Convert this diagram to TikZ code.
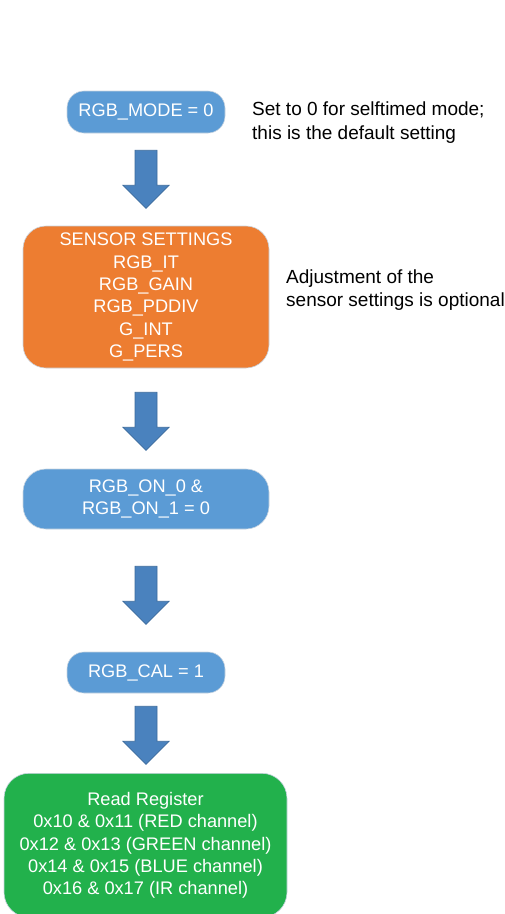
\documentclass[tikz,border=0pt]{standalone}
\usepackage{fontspec}
\setmainfont{Liberation Sans}
\definecolor{boxblue}{HTML}{5B9BD5}
\definecolor{boxorange}{HTML}{ED7D31}
\definecolor{boxgreen}{HTML}{22B14C}
\definecolor{arrfill}{HTML}{4A82BE}
\definecolor{arrdraw}{HTML}{3B6B9C}
\definecolor{boxedge}{HTML}{C8D4E0}
\begin{document}
\begin{tikzpicture}[x=1pt,y=1pt,
  boxbase/.style={draw=boxedge,line width=0.6pt,text=white,align=center,
    font=\fontsize{18.2}{22.3}\selectfont,inner sep=0pt},
  smallbox/.style={boxbase,fill=boxblue,rounded corners=17pt,minimum width=158pt},
  widebox/.style={boxbase,rounded corners=23pt,minimum width=246pt},
  note/.style={align=left,anchor=west,inner sep=0pt,font=\fontsize{19}{23.5}\selectfont},
  barrow/.pic={\draw[fill=arrfill,draw=arrdraw,line width=0.7pt,line join=miter]
     (-11,0) -- (11,0) -- (11,-35) -- (23,-35) -- (0,-58) -- (-23,-35) -- (-11,-35) -- cycle;}
]
\useasboundingbox (0,0) rectangle (504,-914);
\node[smallbox,minimum height=42pt] (mode) at (146,-112) {RGB\_MODE = 0};
\node[widebox,fill=boxorange,minimum height=142pt] (sens) at (146,-297)
  {SENSOR SETTINGS\\RGB\_IT\\RGB\_GAIN\\RGB\_PDDIV\\G\_INT\\G\_PERS};
\node[widebox,fill=boxblue,minimum height=60pt] (on) at (146,-499)
  {RGB\_ON\_0 \&\\RGB\_ON\_1 = 0};
\node[smallbox,minimum height=41pt] (cal) at (146,-672.5) {RGB\_CAL = 1};
\node[boxbase,fill=boxgreen,rounded corners=25pt,minimum width=283pt,minimum height=144pt,
  anchor=north] (rr) at (145.5,-773)
  {Read Register\\0x10 \& 0x11 (RED channel)\\0x12 \& 0x13 (GREEN channel)\\0x14 \& 0x15 (BLUE channel)\\0x16 \& 0x17 (IR channel)};
\node[note] (n1) at (252,-122.5) {Set to 0 for selftimed mode;\\this is the default setting};
\node[note] (n2) at (286,-290) {Adjustment of the\\sensor settings is optional};
\pic at ([yshift=-17pt]mode.south) {barrow};
\pic at ([yshift=-24pt]sens.south) {barrow};
\pic at ([yshift=-37pt]on.south) {barrow};
\pic at ([yshift=-13pt]cal.south) {barrow};
\end{tikzpicture}
\end{document}
